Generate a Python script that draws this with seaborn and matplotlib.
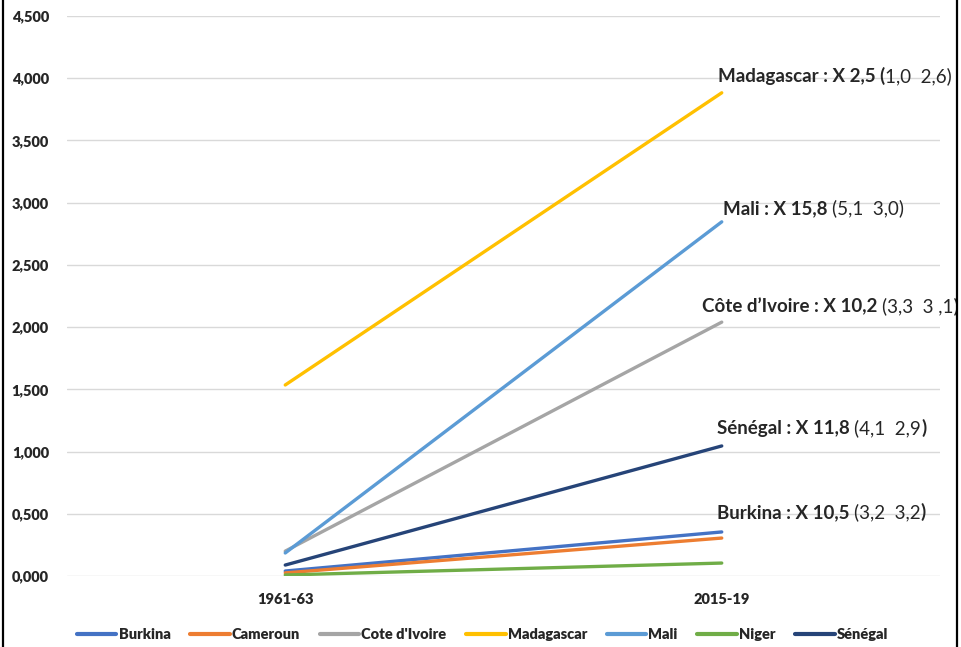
import matplotlib
matplotlib.use("Agg")
import matplotlib.pyplot as plt
from matplotlib.patches import Rectangle
import pandas as pd
import seaborn as sns

# Periods and values per country
periods = ["1961-63", "2015-19"]
countries = ["Burkina", "Cameroun", "Cote d'Ivoire", "Madagascar", "Mali", "Niger", "Sénégal"]
burkina = [0.040, 0.354]
cameroun = [0.025, 0.305]
cote_divoire = [0.200, 2.040]
madagascar = [1.535, 3.883]
mali = [0.185, 2.846]
niger = [0.008, 0.104]
senegal = [0.088, 1.045]
colors = ["#4472C4", "#ED7D31", "#A5A5A5", "#FFC000", "#5B9BD5", "#70AD47", "#264478"]

# Annotation texts: (bold part, regular part, trailing bold part)
notes = [
    ("Madagascar : X 2,5 (", "1,0  2,6)", ""),
    ("Mali : X 15,8 ", "(5,1  3,0)", ""),
    ("Côte d\u2019Ivoire : X 10,2 ", "(3,3  3 ,1)", ""),
    ("Sénégal : X 11,8 ", "(4,1  2,9", ")"),
    ("Burkina : X 10,5 ", "(3,2  3,2", ")"),
]
note_x = [0.991, 1.003, 0.955, 0.989, 0.989]
note_y = [3.971, 2.910, 2.122, 1.141, 0.466]

series = [burkina, cameroun, cote_divoire, madagascar, mali, niger, senegal]
rows = []
for name, vals in zip(countries, series):
    for p, v in zip(periods, vals):
        rows.append({"period": p, "country": name, "value": v})
df = pd.DataFrame(rows)

sns.set_theme(style="white")
plt.rcParams["font.family"] = ["Lato", "DejaVu Sans"]

fig = plt.figure(figsize=(9.61, 6.47), dpi=100)
ax = fig.add_axes([67 / 961, 1 - 576 / 647, 873 / 961, 560 / 647])

sns.lineplot(data=df, x="period", y="value", hue="country", hue_order=countries,
             palette=colors, linewidth=2.4, ax=ax, sort=False,
             solid_capstyle="round")

ax.set_xlim(-0.5, 1.5)
ax.set_ylim(0, 4.5)
yt = [i * 0.5 for i in range(10)]
ax.set_yticks(yt)
ax.set_yticklabels(["{:.3f}".format(v).replace(".", ",") for v in yt])
ax.yaxis.grid(True, color="#D9D9D9", linewidth=1)
ax.set_axisbelow(True)
for s in ax.spines.values():
    s.set_visible(False)
ax.tick_params(axis="both", length=0, labelsize=10.5)
ax.tick_params(axis="y", pad=13)
ax.tick_params(axis="x", pad=12)
for lab in ax.get_yticklabels() + ax.get_xticklabels():
    lab.set_fontweight("heavy")
ax.set_xlabel("")
ax.set_ylabel("")

# Annotations built from bold and regular pieces, placed one after another
renderer = fig.canvas.get_renderer()
inv = ax.transData.inverted()
for (b, r, b2), xv, yv in zip(notes, note_x, note_y):
    x = xv
    for piece, w in ((b, "bold"), (r, "normal"), (b2, "bold")):
        if not piece:
            continue
        t = ax.text(x, yv, piece, fontsize=13.5, fontweight=w, va="baseline", ha="left")
        bb = t.get_window_extent(renderer)
        x = inv.transform((bb.x1, bb.y0))[0]

leg = ax.legend(loc="center", bbox_to_anchor=(0.476, -0.105), ncol=7, frameon=False,
                handlelength=2.7, handletextpad=0.15, columnspacing=1.35,
                prop={"weight": "heavy", "size": 10.5})
for line in leg.get_lines():
    line.set_linewidth(3)

# Outer frame
fig.patches.append(Rectangle((3 / 961, -0.01), 954 / 961, 1.02, transform=fig.transFigure,
                             fill=False, edgecolor="black", linewidth=1.6))

fig.savefig("out.png", dpi=100)
